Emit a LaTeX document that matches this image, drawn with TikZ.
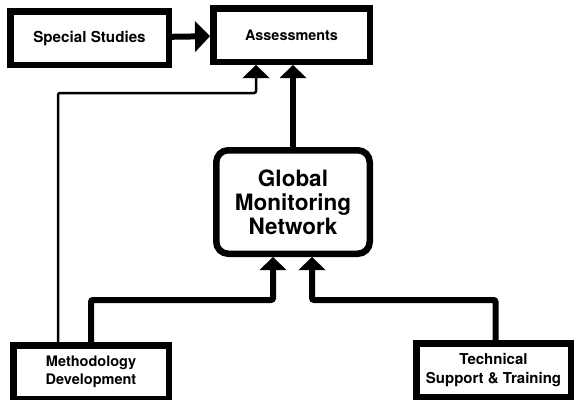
\documentclass[tikz,border=0pt]{standalone}
\usepackage{fontspec}
\setmainfont{TeX Gyre Heros}
\usepackage{tikz}
\usetikzlibrary{arrows.meta}

\begin{document}
\begin{tikzpicture}[x=1pt, y=-1pt,
	box/.style={draw, line width=6.5pt, font=\bfseries\fontsize{14.5}{18.5}\selectfont, inner sep=0, align=center},
	bigbox/.style={box, rounded corners=12pt, font=\bfseries\fontsize{22.5}{24}\selectfont},
	conn/.style={line width=6pt, rounded corners=2pt, -{Triangle[width=27pt, length=13pt, line width=0pt]}},
	thinconn/.style={conn, line width=2.5pt}
]
\useasboundingbox (0,0) rectangle (575,399);

\node[box, minimum width=158.5, minimum height=53.5, font=\bfseries\fontsize{15.2}{18}\selectfont] (spec) at (89.5,38) {Special Studies};
\node[box, minimum width=156.5, minimum height=53.5, font=\bfseries\fontsize{14.4}{18}\selectfont] (assess) at (291.5,35) {Assessments};
\node[bigbox, minimum width=153.5, minimum height=103.5] (gmn) at (293,202) {Global\\Monitoring\\Network};
\node[box, minimum width=155.5, minimum height=53.5] (meth) at (91,372) {Methodology\\Development};
\node[box, minimum width=154.5, minimum height=53.5, font=\bfseries\fontsize{15}{18.5}\selectfont] (tech) at (493.5,370) {Technical\\Support \& Training};

% elbow points
\coordinate (ja) at (256,93);
\coordinate (jm) at (273,300);
\coordinate (jt) at (312,300);

\draw[conn, -{Triangle[width=31pt, length=15pt, line width=0pt]}] (spec) -- (assess);
\draw[conn] (gmn.north) -- (gmn.north |- assess.south);
\draw[thinconn] ([xshift=-33pt]meth.north) |- (ja) -- (ja |- assess.south);
\draw[conn] (meth.north) |- (jm) -- (jm |- gmn.south);
\draw[conn] ([xshift=2pt]tech.north) |- (jt) -- (jt |- gmn.south);
\end{tikzpicture}
\end{document}
